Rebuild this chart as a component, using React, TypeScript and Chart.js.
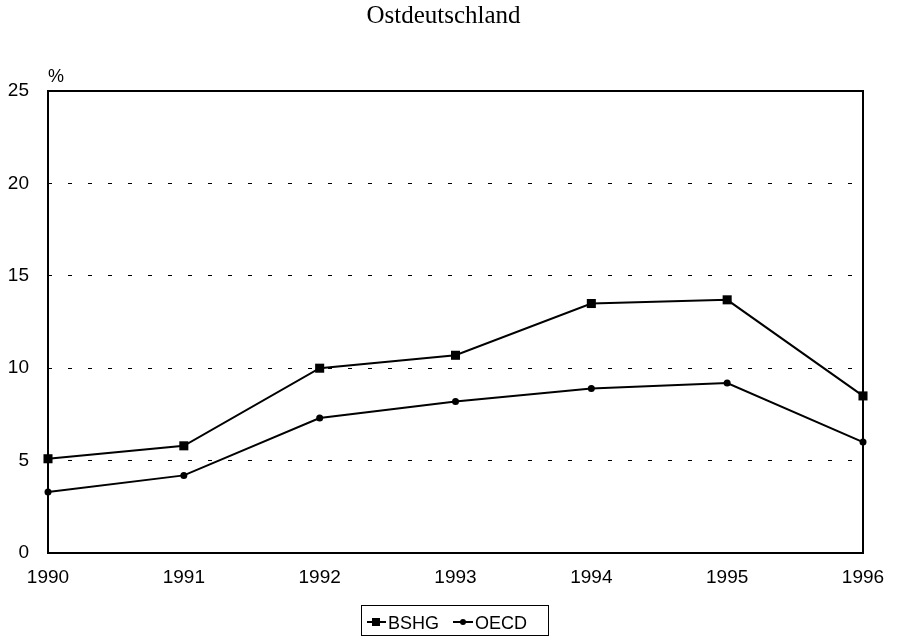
import React, { useEffect, useRef } from "react";
import { Chart, registerables } from "chart.js";

Chart.register(...registerables);

const years = ["1990", "1991", "1992", "1993", "1994", "1995", "1996"];
const bshg = [5.1, 5.8, 10.0, 10.7, 13.5, 13.7, 8.5];
const oecd = [3.3, 4.2, 7.3, 8.2, 8.9, 9.2, 6.0];
const yTicks = [0, 5, 10, 15, 20, 25];
const titleText = "Ostdeutschland";
const unitText = "%";

const SANS = "'Liberation Sans', Arial, Helvetica, sans-serif";
const SERIF = "'Liberation Serif', 'Times New Roman', serif";

const decorPlugin = {
  id: "decor",
  afterDraw(chart: any) {
    const { ctx, chartArea } = chart;
    const { left, top, right, bottom } = chartArea;
    ctx.save();
    // plot frame
    ctx.strokeStyle = "#000";
    ctx.lineWidth = 2;
    ctx.setLineDash([]);
    ctx.strokeRect(left, top, right - left, bottom - top);

    // title
    ctx.fillStyle = "#000";
    ctx.font = `25px ${SERIF}`;
    ctx.textAlign = "center";
    ctx.textBaseline = "alphabetic";
    ctx.fillText(titleText, 443.5, 23);

    // unit label
    ctx.font = `18px ${SANS}`;
    ctx.textAlign = "left";
    ctx.fillText(unitText, left, 82);

    // legend
    const bx = 361.5, by = 605.5, bw = 187, bh = 30;
    ctx.lineWidth = 1;
    ctx.strokeRect(bx, by, bw, bh);
    const cy = 622;
    ctx.lineWidth = 2;
    ctx.beginPath();
    ctx.moveTo(367, cy);
    ctx.lineTo(386, cy);
    ctx.stroke();
    ctx.fillRect(372, cy - 4, 8, 8);
    ctx.beginPath();
    ctx.moveTo(453, cy);
    ctx.lineTo(473, cy);
    ctx.stroke();
    ctx.beginPath();
    ctx.arc(463, cy, 3, 0, Math.PI * 2);
    ctx.fill();
    ctx.font = `18px ${SANS}`;
    ctx.textBaseline = "alphabetic";
    ctx.fillText("BSHG", 388, 629);
    ctx.fillText("OECD", 475, 629);
    ctx.restore();
  },
};

export default function App() {
  const ref = useRef<HTMLCanvasElement>(null);
  useEffect(() => {
    if (!ref.current) return;
    const chart = new Chart(ref.current, {
      type: "line",
      data: {
        labels: years,
        datasets: [
          {
            label: "BSHG",
            data: bshg,
            borderColor: "#000",
            backgroundColor: "#000",
            borderWidth: 2,
            pointStyle: "rect",
            pointRadius: 6.4,
            pointBorderWidth: 0,
            tension: 0,
            clip: false as any,
          },
          {
            label: "OECD",
            data: oecd,
            borderColor: "#000",
            backgroundColor: "#000",
            borderWidth: 2,
            pointStyle: "circle",
            pointRadius: 3.5,
            pointBorderWidth: 0,
            tension: 0,
            clip: false as any,
          },
        ],
      },
      plugins: [decorPlugin],
      options: {
        responsive: false,
        animation: false,
        layout: { padding: { top: 91, right: 35, bottom: 43, left: 0 } },
        plugins: {
          legend: { display: false },
          title: { display: false },
          tooltip: { enabled: false },
        },
        scales: {
          x: {
            type: "category",
            offset: false,
            grid: { display: false, drawTicks: false },
            border: { display: false },
            ticks: {
              color: "#000",
              font: { family: SANS, size: 19 },
              padding: 13,
              maxRotation: 0,
              autoSkip: false,
            },
            afterFit(scale: any) {
              scale.height = 40;
            },
          },
          y: {
            min: 0,
            max: 25,
            afterBuildTicks(scale: any) {
              scale.ticks = yTicks.map((v) => ({ value: v }));
            },
            grid: {
              drawTicks: false,
              lineWidth: 1,
              color: (c: any) =>
                c.tick && (c.tick.value === 0 || c.tick.value === 25)
                  ? "rgba(0,0,0,0)"
                  : "#000",
            },
            border: { display: false, dash: [4, 16] },
            ticks: {
              color: "#000",
              font: { family: SANS, size: 19 },
              padding: 19,
            },
            afterFit(scale: any) {
              scale.width = 48;
            },
          },
        },
      },
    });
    return () => chart.destroy();
  }, []);
  return (
    <div style={{ position: "fixed", left: 0, top: 0, width: 898, height: 636, background: "#fff" }}>
      <canvas ref={ref} width={898} height={636} style={{ width: 898, height: 636, display: "block" }} />
    </div>
  );
}
